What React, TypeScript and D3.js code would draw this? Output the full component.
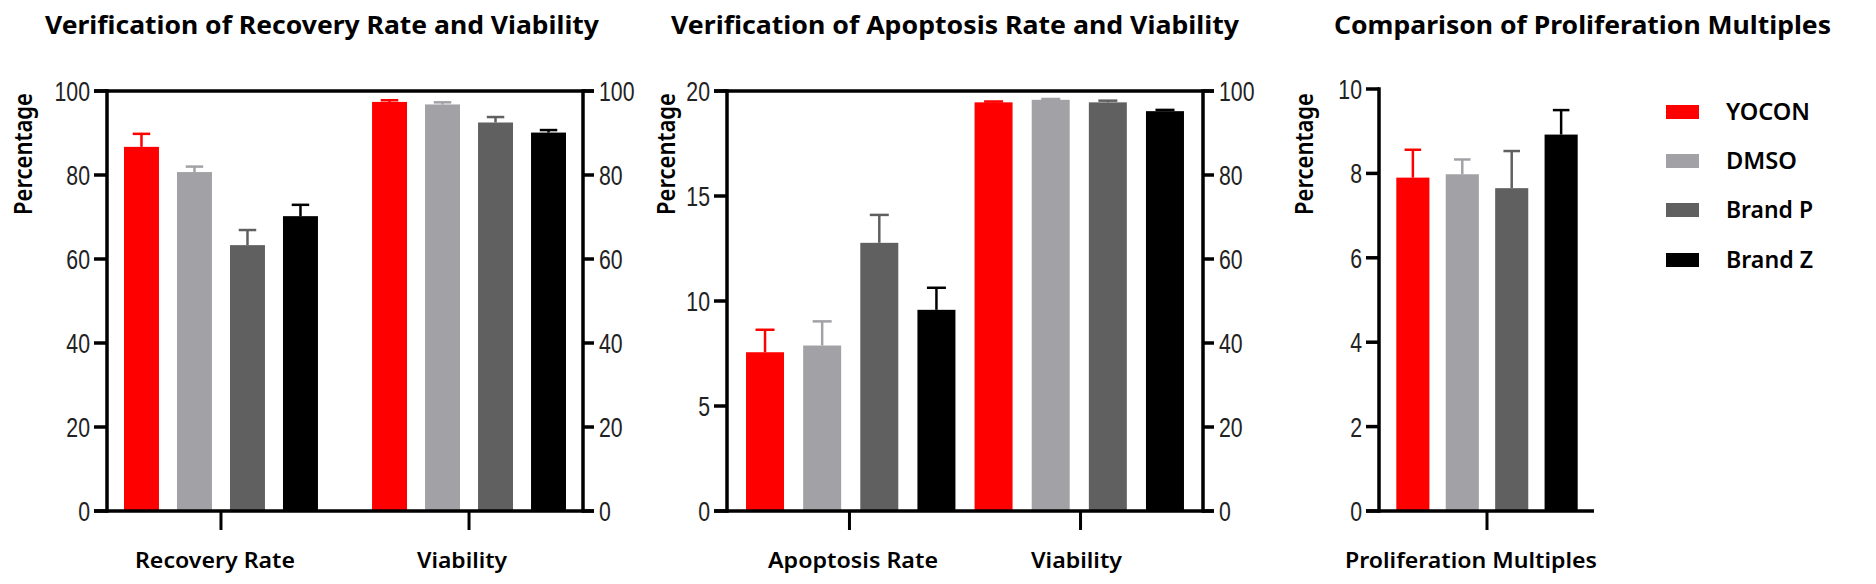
import React from "react";
import * as d3 from "d3";

// ---------- data ----------
const SERIES = ["YOCON", "DMSO", "Brand P", "Brand Z"];
const COLORS = ["#ff0000", "#a2a2a6", "#606060", "#000000"];

const P1_GROUPS = ["Recovery Rate", "Viability"];
const P1_RECOVERY = [86.7, 80.7, 63.3, 70.2];
const P1_RECOVERY_ERR = [3.1, 1.3, 3.6, 2.7];
const P1_VIABILITY = [97.4, 96.8, 92.5, 90.1];
const P1_VIABILITY_ERR = [0.4, 0.5, 1.3, 0.6];

const P2_GROUPS = ["Apoptosis Rate", "Viability"];
const P2_APOPTOSIS = [7.56, 7.88, 12.77, 9.58];
const P2_APOPTOSIS_ERR = [1.07, 1.15, 1.33, 1.05];
const P2_VIABILITY = [97.3, 97.9, 97.3, 95.2];
const P2_VIABILITY_ERR = [0.2, 0.2, 0.4, 0.3];

const P3_GROUPS = ["Proliferation Multiples"];
const P3_PROLIF = [7.9, 7.98, 7.65, 8.92];
const P3_PROLIF_ERR = [0.66, 0.35, 0.88, 0.58];

const TITLES = [
  "Verification of Recovery Rate and Viability",
  "Verification of Apoptosis Rate and Viability",
  "Comparison of Proliferation Multiples",
];
const Y_LABEL = "Percentage";

// ---------- styling ----------
const TITLE_FONT = "'Noto Sans', 'Open Sans', sans-serif";
const TICK_FONT = "'Liberation Sans', Arial, sans-serif";
const AXIS_W = 3.5;
const NARROW = 0.76;

type Lin = d3.ScaleLinear<number, number>;

function Bar({ x, w, y, v, e, color }: { x: number; w: number; y: Lin; v: number; e: number; color: string }) {
  const top = y(v);
  const et = y(v + e);
  const cx = x + w / 2;
  const cap = w * 0.25;
  return (
    <g>
      <rect x={x} y={top} width={w} height={y(0) - top} fill={color} />
      <line x1={cx} x2={cx} y1={top} y2={et} stroke={color} strokeWidth={2.5} />
      <line x1={cx - cap} x2={cx + cap} y1={et} y2={et} stroke={color} strokeWidth={2.5} />
    </g>
  );
}

function TickText({ x, y, anchor, t }: { x: number; y: number; anchor: "start" | "end"; t: number }) {
  return (
    <text transform={`translate(${x},${y + 10}) scale(${NARROW},1)`} textAnchor={anchor}
      fontFamily={TICK_FONT} fontSize={28} fill="#222">
      {t}
    </text>
  );
}

function LeftAxis({ x, y, ticks }: { x: number; y: Lin; ticks: number[] }) {
  const r = y.range();
  return (
    <g>
      <line x1={x} x2={x} y1={r[0] + AXIS_W / 2} y2={r[1] - AXIS_W / 2} stroke="#000" strokeWidth={AXIS_W} />
      {ticks.map((t) => (
        <g key={t}>
          <line x1={x - 13} x2={x} y1={y(t)} y2={y(t)} stroke="#000" strokeWidth={AXIS_W} />
          <TickText x={x - 17} y={y(t)} anchor="end" t={t} />
        </g>
      ))}
    </g>
  );
}

function RightAxis({ x, y, ticks }: { x: number; y: Lin; ticks: number[] }) {
  const r = y.range();
  return (
    <g>
      <line x1={x} x2={x} y1={r[0] + AXIS_W / 2} y2={r[1] - AXIS_W / 2} stroke="#000" strokeWidth={AXIS_W} />
      {ticks.map((t) => (
        <g key={t}>
          <line x1={x} x2={x + 11} y1={y(t)} y2={y(t)} stroke="#000" strokeWidth={AXIS_W} />
          <TickText x={x + 16} y={y(t)} anchor="start" t={t} />
        </g>
      ))}
    </g>
  );
}

function CatTick({ x, y0 }: { x: number; y0: number }) {
  return <line x1={x} x2={x} y1={y0} y2={y0 + 19} stroke="#000" strokeWidth={3} />;
}

function Title({ x, text, len }: { x: number; text: string; len: number }) {
  return (
    <text x={x} y={33.5} textAnchor="start" fontFamily={TITLE_FONT} fontWeight={700} fontSize={25.5}
      textLength={len} lengthAdjust="spacingAndGlyphs" fill="#000">
      {text}
    </text>
  );
}

function XLabel({ x, text, len }: { x: number; text: string; len: number }) {
  return (
    <text x={x} y={568} textAnchor="start" fontFamily={TITLE_FONT} fontWeight={600} fontSize={22}
      textLength={len} lengthAdjust="spacingAndGlyphs" fill="#000">
      {text}
    </text>
  );
}

function YLabel({ x }: { x: number }) {
  return (
    <text transform={`translate(${x},215) rotate(-90)`} textAnchor="start" fontFamily={TITLE_FONT}
      fontWeight={600} fontSize={25} textLength={122} lengthAdjust="spacingAndGlyphs" fill="#000">
      {Y_LABEL}
    </text>
  );
}

const LEGEND_LEN = [84, 71, 87, 87];

export default function App() {
  const BOTTOM = 511;

  // ---- panel 1 ----
  const p1L = 107, p1R = 583;
  const y1 = d3.scaleLinear().domain([0, 100]).range([BOTTOM, 91]);
  const y1r = d3.scaleLinear().domain([0, 100]).range([BOTTOM, 91]);
  const g1 = d3.scaleBand<string>().domain(P1_GROUPS).range([p1L, p1R]).paddingInner(0.218).paddingOuter(0.0685);
  const s1 = d3.scaleBand<string>().domain(SERIES).range([0, g1.bandwidth()]).paddingInner(0.34).paddingOuter(0);

  // ---- panel 2 ----
  const p2L = 727, p2R = 1203;
  const y2 = d3.scaleLinear().domain([0, 20]).range([BOTTOM, 91]);
  const y2r = d3.scaleLinear().domain([0, 100]).range([BOTTOM, 91]);
  const keys2 = P2_GROUPS.flatMap((g) => SERIES.map((s) => g + "|" + s));
  const b2 = d3.scaleBand<string>().domain(keys2).range([p2L, p2R]).paddingInner(0.335).paddingOuter(0.333);
  const t2 = d3.scalePoint<string>().domain(P2_GROUPS).range([p2L, p2R]).padding(0.53);

  // ---- panel 3 ----
  const p3L = 1379, p3R = 1594;
  const y3 = d3.scaleLinear().domain([0, 10]).range([BOTTOM, 89]);
  const b3 = d3.scaleBand<string>().domain(SERIES).range([p3L + 1, p3R]).padding(0.33);
  const t3 = d3.scalePoint<string>().domain(P3_GROUPS).range([p3L + 1, p3R]).padding(0.5);

  return (
    <svg width={1876} height={584} style={{ position: "absolute", left: 0, top: 0, background: "#fff" }}>
      <rect width={1876} height={584} fill="#fff" />

      {/* Titles */}
      <Title x={45} text={TITLES[0]} len={554} />
      <Title x={671} text={TITLES[1]} len={568} />
      <Title x={1334} text={TITLES[2]} len={497} />

      {/* ---------- Panel 1 ---------- */}
      <g>
        {SERIES.map((s, i) => (
          <Bar key={"r" + s} x={g1(P1_GROUPS[0])! + s1(s)!} w={s1.bandwidth()} y={y1} v={P1_RECOVERY[i]} e={P1_RECOVERY_ERR[i]} color={COLORS[i]} />
        ))}
        {SERIES.map((s, i) => (
          <Bar key={"v" + s} x={g1(P1_GROUPS[1])! + s1(s)!} w={s1.bandwidth()} y={y1r} v={P1_VIABILITY[i]} e={P1_VIABILITY_ERR[i]} color={COLORS[i]} />
        ))}
        <line x1={p1L - 13} x2={p1R + 11} y1={y1(100)} y2={y1(100)} stroke="#000" strokeWidth={AXIS_W} />
        <line x1={p1L - 13} x2={p1R + 11} y1={BOTTOM} y2={BOTTOM} stroke="#000" strokeWidth={AXIS_W} />
        <LeftAxis x={p1L} y={y1} ticks={y1.ticks(5)} />
        <RightAxis x={p1R} y={y1r} ticks={y1r.ticks(5)} />
        {P1_GROUPS.map((g) => (
          <CatTick key={g} x={g1(g)! + g1.bandwidth() / 2} y0={BOTTOM} />
        ))}
        <XLabel x={135} text={P1_GROUPS[0]} len={160} />
        <XLabel x={417} text={P1_GROUPS[1]} len={90} />
        <YLabel x={32} />
      </g>

      {/* ---------- Panel 2 ---------- */}
      <g>
        {SERIES.map((s, i) => (
          <Bar key={"a" + s} x={b2(P2_GROUPS[0] + "|" + s)!} w={b2.bandwidth()} y={y2} v={P2_APOPTOSIS[i]} e={P2_APOPTOSIS_ERR[i]} color={COLORS[i]} />
        ))}
        {SERIES.map((s, i) => (
          <Bar key={"v" + s} x={b2(P2_GROUPS[1] + "|" + s)!} w={b2.bandwidth()} y={y2r} v={P2_VIABILITY[i]} e={P2_VIABILITY_ERR[i]} color={COLORS[i]} />
        ))}
        <line x1={p2L - 13} x2={p2R + 11} y1={y2(20)} y2={y2(20)} stroke="#000" strokeWidth={AXIS_W} />
        <line x1={p2L - 13} x2={p2R + 11} y1={BOTTOM} y2={BOTTOM} stroke="#000" strokeWidth={AXIS_W} />
        <LeftAxis x={p2L} y={y2} ticks={y2.ticks(4)} />
        <RightAxis x={p2R} y={y2r} ticks={y2r.ticks(5)} />
        {P2_GROUPS.map((g) => (
          <CatTick key={g} x={t2(g)!} y0={BOTTOM} />
        ))}
        <XLabel x={768} text={P2_GROUPS[0]} len={170} />
        <XLabel x={1031} text={P2_GROUPS[1]} len={91} />
        <YLabel x={675} />
      </g>

      {/* ---------- Panel 3 ---------- */}
      <g>
        {SERIES.map((s, i) => (
          <Bar key={"p" + s} x={b3(s)!} w={b3.bandwidth()} y={y3} v={P3_PROLIF[i]} e={P3_PROLIF_ERR[i]} color={COLORS[i]} />
        ))}
        <line x1={p3L - 13} x2={p3R} y1={BOTTOM} y2={BOTTOM} stroke="#000" strokeWidth={AXIS_W} />
        <LeftAxis x={p3L} y={y3} ticks={y3.ticks(5)} />
        {P3_GROUPS.map((g) => (
          <CatTick key={g} x={t3(g)!} y0={BOTTOM} />
        ))}
        <XLabel x={1345} text={P3_GROUPS[0]} len={252} />
        <YLabel x={1313} />
      </g>

      {/* ---------- Legend ---------- */}
      <g>
        {SERIES.map((s, i) => {
          const cy = [112, 161, 210, 260][i];
          return (
            <g key={s}>
              <rect x={1666} y={cy - 7} width={33} height={14} fill={COLORS[i]} />
              <text x={1726} y={cy + 7.5} fontFamily={TITLE_FONT} fontWeight={600} fontSize={23}
                textLength={LEGEND_LEN[i]} lengthAdjust="spacingAndGlyphs" fill="#000">
                {s}
              </text>
            </g>
          );
        })}
      </g>
    </svg>
  );
}
